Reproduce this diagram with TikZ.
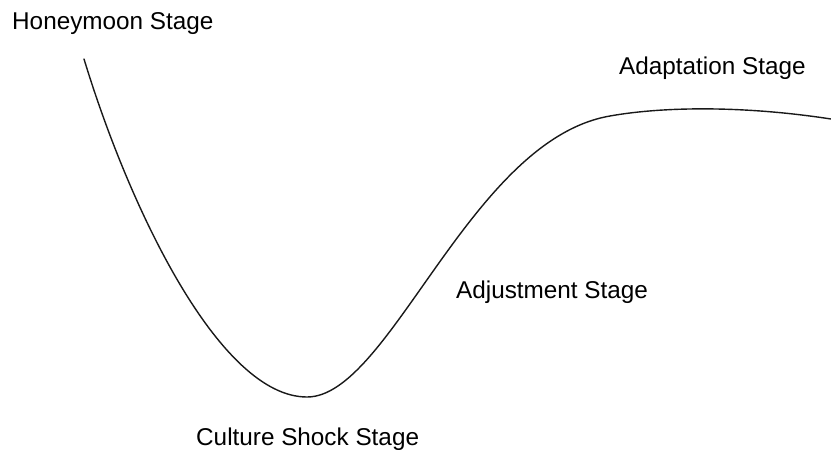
\documentclass[tikz,border=0pt]{standalone}
\usepackage{fontspec}
\setmainfont{Liberation Sans}
\begin{document}
\begin{tikzpicture}[x=1pt,y=-1pt,
  lbl/.style={anchor=base west,inner sep=0pt,font=\fontsize{24.3}{29}\selectfont},
  curve/.style={line width=1.4pt,line cap=round,black!90}]
\useasboundingbox (0,0) rectangle (831,450);
\fill[white] (0,0) rectangle (831,450);
\coordinate (start) at (84,59);
\coordinate (bottom) at (307,397);
\coordinate (shoulder) at (610,116);
\coordinate (finish) at (831,119);
\draw[curve] (start) .. controls (130,210) and (220,397) .. (bottom)
  .. controls (390,397) and (470,140) .. (shoulder)
  .. controls (660,107) and (740,105) .. (finish);
\node[lbl] (honey) at (12,29) {Honeymoon Stage};
\node[lbl] (shock) at (196,445) {Culture Shock Stage};
\node[lbl] (adjust) at (456,298) {Adjustment Stage};
\node[lbl] (adapt) at (619,74) {Adaptation Stage};
\end{tikzpicture}
\end{document}
